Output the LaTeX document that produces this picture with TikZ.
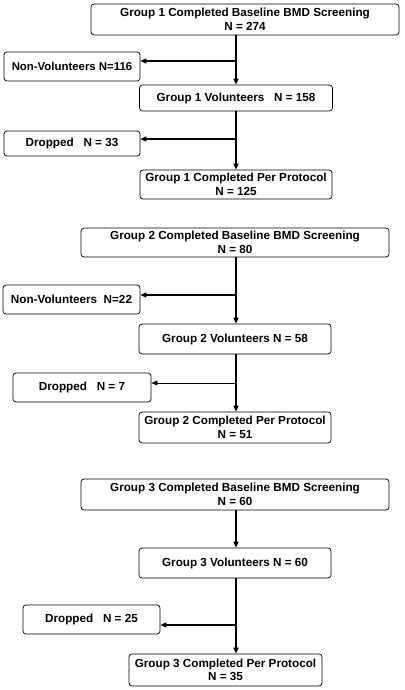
\documentclass[tikz,border=0pt]{standalone}
\usepackage{fontspec}
\setmainfont{Liberation Sans}
\usetikzlibrary{arrows.meta}
\begin{document}
\begin{tikzpicture}[x=1pt,y=-1pt,
  box/.style={draw, rounded corners=3pt, line width=0.7pt, align=center, inner sep=0pt,
    font=\bfseries\fontsize{11.7}{13.5}\selectfont},
  small/.style={font=\bfseries\fontsize{11.4}{13}\selectfont},
  flow/.style={line width=1.4pt, -{Triangle[length=6pt,width=5pt]}},
  thin/.style={line width=0.7pt, -{Triangle[length=6pt,width=5pt]}}]
\useasboundingbox (0,0) rectangle (404,690);
% Group 1
\node[box, minimum width=308pt, minimum height=31pt] (A1) at (245,19.5) {Group 1 Completed Baseline BMD Screening\\N = 274};
\node[box, small, minimum width=136pt, minimum height=29pt] (N1) at (72,66.5) {Non-Volunteers N=116};
\node[box, minimum width=193pt, minimum height=26pt] (B1) at (236,98) {Group 1 Volunteers\ \ \ N = 158};
\node[box, minimum width=136pt, minimum height=25pt] (D1) at (72,143.5) {Dropped\ \ \ N = 33};
\node[box, minimum width=192pt, minimum height=29pt] (C1) at (236,184.5) {Group 1 Completed Per Protocol\\N = 125};
\coordinate (j1) at (236,61);
\coordinate (k1) at (236,139);
\draw[flow] (A1.south -| B1.north) -- (B1.north);
\draw[flow] (j1) -- (j1 -| N1.east);
\draw[flow] (B1.south) -- (C1.north);
\draw[flow] (k1) -- (k1 -| D1.east);
% Group 2
\node[box, minimum width=308pt, minimum height=29pt] (A2) at (235,242.5) {Group 2 Completed Baseline BMD Screening\\N = 80};
\node[box, minimum width=137pt, minimum height=29pt] (N2) at (71.5,299.5) {Non-Volunteers\ \ N=22};
\node[box, minimum width=192pt, minimum height=30pt] (B2) at (235,339) {Group 2 Volunteers N = 58};
\node[box, minimum width=138pt, minimum height=29pt] (D2) at (82,387.5) {Dropped\ \ \ N = 7};
\node[box, minimum width=192pt, minimum height=31pt] (C2) at (235,427.5) {Group 2 Completed Per Protocol\\N = 51};
\coordinate (j2) at (236,295);
\coordinate (k2) at (236,383);
\draw[flow] (A2.south -| 236,0) -- (B2.north -| 236,0);
\draw[flow] (j2) -- (j2 -| N2.east);
\draw[flow] (B2.south -| 236,0) -- (C2.north -| 236,0);
\draw[thin] (k2) -- (k2 -| D2.east);
% Group 3
\node[box, minimum width=308pt, minimum height=31pt] (A3) at (235,494.5) {Group 3 Completed Baseline BMD Screening\\N = 60};
\node[box, minimum width=192pt, minimum height=30pt] (B3) at (235,563) {Group 3 Volunteers N = 60};
\node[box, minimum width=137pt, minimum height=29pt] (D3) at (91.5,619.5) {Dropped\ \ \ N = 25};
\node[box, minimum width=193pt, minimum height=32pt] (C3) at (225.5,670) {Group 3 Completed Per Protocol\\N = 35};
\coordinate (k3) at (236,625);
\draw[flow] (A3.south -| 236,0) -- (B3.north -| 236,0);
\draw[flow] (B3.south -| 236,0) -- (C3.north -| 236,0);
\draw[flow] (k3) -- (k3 -| D3.east);
\end{tikzpicture}
\end{document}
